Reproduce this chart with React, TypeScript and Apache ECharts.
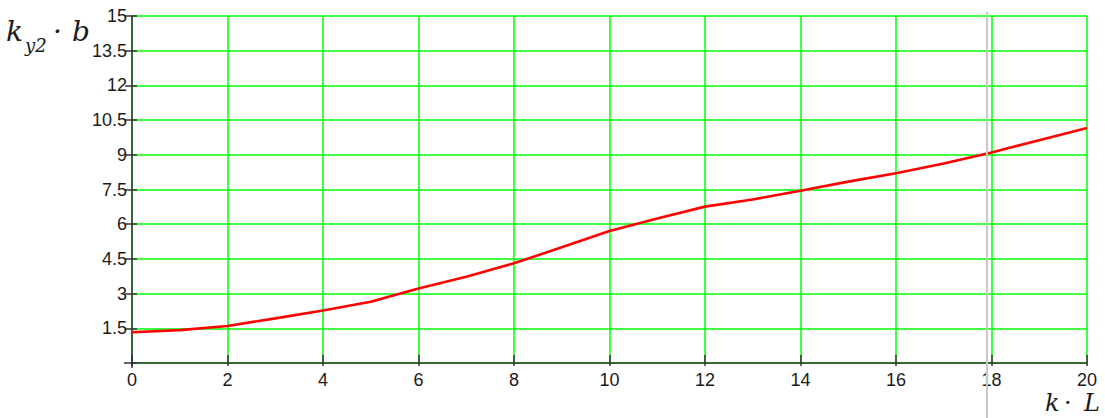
import React, { useEffect, useRef } from "react";
import * as echarts from "echarts";

// k·L values (x axis)
const xValues = [0, 1, 2, 3, 4, 5, 6, 7, 8, 9, 10, 11, 12, 13, 14, 15, 16, 17, 18, 19, 20];
// k_y2·b values (y axis)
const yValues = [1.33, 1.42, 1.6, 1.93, 2.27, 2.65, 3.22, 3.73, 4.31, 5.0, 5.71, 6.25, 6.76, 7.07, 7.45, 7.84, 8.2, 8.62, 9.1, 9.63, 10.16];

const X_MIN = 0, X_MAX = 20, X_STEP = 2;
const Y_MIN = 0, Y_MAX = 15, Y_STEP = 1.5;

const AXIS_COLOR = "#333333";
const GRID_COLOR = "#00ff00";
const LABEL_FONT = "Liberation Sans";
const TITLE_FONT = "DejaVu Serif";

export default function App() {
  const ref = useRef<HTMLDivElement>(null);

  useEffect(() => {
    if (!ref.current) return;
    const chart = echarts.init(ref.current, null, { renderer: "svg" });
    const labelStyle = { fontSize: 18, fontFamily: LABEL_FONT, color: "#1a1a1a" };
    const titleStyle = (text: string, x: number, y: number, size: number) => ({
      type: "text",
      x,
      y,
      z: 20,
      style: {
        text,
        fontSize: size,
        fontFamily: TITLE_FONT,
        fontStyle: "italic",
        fill: "#1a1a1a",
        verticalAlign: "middle",
        align: "left",
      },
    });
    chart.setOption({
      animation: false,
      backgroundColor: "#ffffff",
      grid: { left: 132, right: 18, top: 16, bottom: 55, containLabel: false },
      xAxis: [
        {
          type: "value",
          min: X_MIN,
          max: X_MAX,
          interval: X_STEP,
          position: "bottom",
          axisLine: { show: true, onZero: false, lineStyle: { color: AXIS_COLOR, width: 1.5 } },
          axisTick: { show: true, inside: true, length: 8, lineStyle: { color: AXIS_COLOR, width: 1.5 } },
          axisLabel: { ...labelStyle, margin: 8 },
          splitLine: { show: true, lineStyle: { color: GRID_COLOR, width: 1.5 } },
        },
        {
          type: "value",
          min: X_MIN,
          max: X_MAX,
          interval: X_STEP,
          position: "bottom",
          axisLine: { show: false },
          axisTick: { show: true, inside: false, length: 3, lineStyle: { color: AXIS_COLOR, width: 1.5 } },
          axisLabel: { show: false },
          splitLine: { show: false },
        },
      ],
      yAxis: [
        {
          type: "value",
          min: Y_MIN,
          max: Y_MAX,
          interval: Y_STEP,
          position: "left",
          axisLine: { show: true, onZero: false, lineStyle: { color: AXIS_COLOR, width: 1.5 } },
          axisTick: { show: true, inside: false, length: 7, lineStyle: { color: AXIS_COLOR, width: 1.5 } },
          axisLabel: { ...labelStyle, margin: 5, showMinLabel: false, padding: [4, 0, 0, 0] },
          splitLine: { show: true, lineStyle: { color: GRID_COLOR, width: 1.5 } },
        },
        {
          type: "value",
          min: Y_MIN,
          max: Y_MAX,
          interval: Y_STEP,
          position: "left",
          offset: 0,
          axisLine: { show: false },
          axisTick: { show: true, inside: true, length: 5, lineStyle: { color: AXIS_COLOR, width: 1.5 } },
          axisLabel: { show: false },
          splitLine: { show: false },
        },
      ],
      series: [
        {
          type: "line",
          xAxisIndex: 0,
          yAxisIndex: 0,
          data: xValues.map((x, i) => [x, yValues[i]]),
          showSymbol: false,
          symbol: "none",
          lineStyle: { color: "#ff0000", width: 2.6 },
          z: 5,
        },
      ],
      graphic: [
        { type: "line", z: 30, shape: { x1: 987, y1: 12, x2: 987, y2: 418 }, style: { stroke: "#c8c8c8", lineWidth: 2 } },
        { type: "line", z: 10, shape: { x1: 124, y1: 363, x2: 132, y2: 363 }, style: { stroke: AXIS_COLOR, lineWidth: 1.5 } },
        { type: "line", z: 10, shape: { x1: 132, y1: 363, x2: 132, y2: 368 }, style: { stroke: AXIS_COLOR, lineWidth: 1.5 } },
        titleStyle("k", 6, 31, 28),
        titleStyle("y2", 25, 45, 18),
        titleStyle("·", 53, 31, 28),
        titleStyle("b", 72, 31, 28),
        titleStyle("k", 1045, 403, 24),
        titleStyle("·", 1064, 403, 24),
        titleStyle("L", 1084, 403, 24),
      ],
    });
    return () => chart.dispose();
  }, []);

  return (
    <div
      ref={ref}
      style={{ position: "fixed", left: 0, top: 0, width: 1105, height: 418, background: "#ffffff" }}
    />
  );
}
